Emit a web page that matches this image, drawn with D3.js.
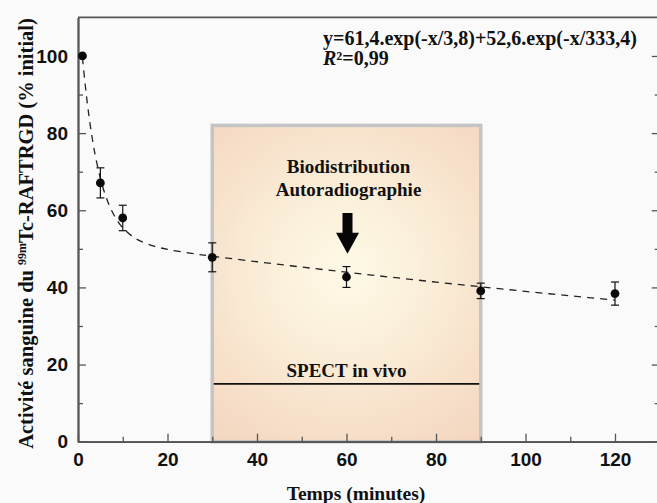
<!DOCTYPE html>
<html>
<head>
<meta charset="utf-8">
<script src="https://cdn.jsdelivr.net/npm/d3@7"></script>
<style>
  html, body { margin: 0; padding: 0; background: #fafafa; }
  svg { display: block; }
</style>
</head>
<body>
<svg id="chart" width="657" height="503"></svg>
<script>
// ---- data ----
const timeMin   = [1, 5, 10, 30, 60, 90, 120];
const activity  = [100, 67.1, 58.0, 47.8, 42.7, 39.1, 38.4];
const errorSD   = [0, 3.9, 3.3, 3.75, 2.7, 2.0, 3.0];

// fitted curve y=61,4.exp(-x/3,8)+52,6.exp(-x/333,4)
const fitX = [1, 1.5, 2, 2.5, 3, 3.5, 4, 5, 6, 7, 8, 9, 10, 12, 14, 17, 20, 25, 30, 40, 50, 60, 70, 80, 90, 100, 110, 120];
const fitY = [99.6, 93.74, 88.56, 84.01, 80.01, 76.49, 73.40, 68.29, 64.32, 61.24, 58.83, 56.95, 55.47, 53.35, 51.98, 50.69, 49.86, 48.88, 48.09, 46.65, 45.27, 43.94, 42.64, 41.38, 40.16, 38.97, 37.82, 36.70];

const xMajorTicks = [0, 20, 40, 60, 80, 100, 120];
const xMinorTicks = [10, 30, 50, 70, 90, 110];
const yMajorTicks = [0, 20, 40, 60, 80, 100];
const yMinorTicks = [10, 30, 50, 70, 90];

const windowRange = [30, 90];     // shaded period (minutes)
const windowTop   = 82;           // top of shaded period (% initial)
const spectLevel  = 15;           // SPECT line level
const arrowX      = 60;
const arrowFrom   = 59.3;
const arrowTo     = 48.7;

const equationText = "y=61,4.exp(-x/3,8)+52,6.exp(-x/333,4)";
const r2Text = "=0,99";

// ---- scales ----
const svg = d3.select("#chart");
const W = 657, H = 503;
const x = d3.scaleLinear().domain([0, 130]).range([78, 659.75]);
const y = d3.scaleLinear().domain([0, 110]).range([441.7, 17.4]);

svg.append("rect").attr("width", W).attr("height", H).attr("fill", "#fafafa");

// gradient
const defs = svg.append("defs");
const grad = defs.append("radialGradient")
  .attr("id", "glow").attr("gradientUnits", "userSpaceOnUse")
  .attr("cx", x(60)).attr("cy", y(44)).attr("r", 235);
[[0, "#fdf9e6"], [0.3, "#fbf0da"], [0.65, "#f7e0ca"], [1, "#f2d3bc"]].forEach(([o, c]) =>
  grad.append("stop").attr("offset", o).attr("stop-color", c));

// shaded window
svg.append("rect")
  .attr("x", x(windowRange[0])).attr("y", y(windowTop))
  .attr("width", x(windowRange[1]) - x(windowRange[0]))
  .attr("height", y(0) - y(windowTop))
  .attr("fill", "url(#glow)")
  .attr("stroke", "#c4c4c4").attr("stroke-width", 3.5);

// SPECT line
svg.append("line")
  .attr("x1", x(windowRange[0]) + 1.5).attr("x2", x(windowRange[1]) - 1.5)
  .attr("y1", y(spectLevel)).attr("y2", y(spectLevel))
  .attr("stroke", "#111").attr("stroke-width", 1.6);

// ---- axes ----
const axisColor = "#555";
function styleAxis(g) {
  g.select(".domain").attr("stroke", axisColor).attr("stroke-width", 1.8);
  g.selectAll(".tick line").attr("stroke", axisColor).attr("stroke-width", 1.3);
  g.selectAll(".tick text")
    .attr("fill", "#111")
    .style("font-family", "'Liberation Sans', Arial, sans-serif")
    .style("font-weight", "bold")
    .style("font-size", "19px");
}

const gx = svg.append("g").attr("transform", `translate(0,${y(0)})`)
  .call(d3.axisBottom(x).tickValues(xMajorTicks).tickFormat(d3.format("d"))
        .tickSizeInner(-8).tickSizeOuter(0).tickPadding(11));
styleAxis(gx);
const gxm = svg.append("g").attr("transform", `translate(0,${y(0)})`)
  .call(d3.axisBottom(x).tickValues(xMinorTicks).tickFormat("")
        .tickSizeInner(-5).tickSizeOuter(0));
styleAxis(gxm);

const gy = svg.append("g").attr("transform", `translate(${x(0)},0)`)
  .call(d3.axisLeft(y).tickValues(yMajorTicks).tickFormat(d3.format("d"))
        .tickSizeInner(-8).tickSizeOuter(0).tickPadding(10));
styleAxis(gy);
const gym = svg.append("g").attr("transform", `translate(${x(0)},0)`)
  .call(d3.axisLeft(y).tickValues(yMinorTicks).tickFormat("")
        .tickSizeInner(-5).tickSizeOuter(0));
styleAxis(gym);

const gr = svg.append("g").attr("transform", `translate(${x(130)},0)`)
  .call(d3.axisRight(y).tickValues(yMajorTicks).tickFormat("")
        .tickSizeInner(-8).tickSizeOuter(0));
styleAxis(gr);
const grm = svg.append("g").attr("transform", `translate(${x(130)},0)`)
  .call(d3.axisRight(y).tickValues(yMinorTicks).tickFormat("")
        .tickSizeInner(-5).tickSizeOuter(0));
styleAxis(grm);

// top frame
svg.append("line")
  .attr("x1", x(0)).attr("x2", x(130)).attr("y1", y(110)).attr("y2", y(110))
  .attr("stroke", axisColor).attr("stroke-width", 1.8);

// ---- fit curve ----
const line = d3.line().x(d => x(d[0])).y(d => y(d[1])).curve(d3.curveCatmullRom);
svg.append("path")
  .datum(fitX.map((v, i) => [v, fitY[i]]))
  .attr("d", line)
  .attr("fill", "none").attr("stroke", "#222")
  .attr("stroke-width", 1.3).attr("stroke-dasharray", "7,6");

// ---- error bars & points ----
const pts = timeMin.map((t, i) => ({ t, v: activity[i], e: errorSD[i] }));
const eb = svg.append("g").attr("stroke", "#111").attr("stroke-width", 1.2);
pts.filter(d => d.e > 0).forEach(d => {
  eb.append("line").attr("x1", x(d.t)).attr("x2", x(d.t))
    .attr("y1", y(d.v + d.e)).attr("y2", y(d.v - d.e));
  [d.v + d.e, d.v - d.e].forEach(v =>
    eb.append("line").attr("x1", x(d.t) - 4).attr("x2", x(d.t) + 4)
      .attr("y1", y(v)).attr("y2", y(v)));
});
svg.append("g").selectAll("circle").data(pts).join("circle")
  .attr("cx", d => x(d.t)).attr("cy", d => y(d.v)).attr("r", 4.4)
  .attr("fill", "#0a0a0a");

// ---- annotations ----
const serif = "'Liberation Serif', 'Times New Roman', serif";
function label(txt, px, py, size, anchor) {
  return svg.append("text").attr("x", px).attr("y", py)
    .attr("text-anchor", anchor || "middle")
    .style("font-family", serif).style("font-weight", "bold")
    .style("font-size", size + "px").attr("fill", "#111").text(txt);
}
const cx = (x(windowRange[0]) + x(windowRange[1])) / 2;
label("Biodistribution", cx + 2, 173.3, 19);
label("Autoradiographie", cx + 2, 196, 19);
label("SPECT in vivo", cx, 376.7, 19);

// arrow
const ax = x(arrowX) + 1, ay0 = y(arrowFrom), ay1 = y(arrowTo);
const headH = 21, shaftW = 10, headW = 23;
svg.append("path")
  .attr("d", `M${ax - shaftW/2},${ay0} L${ax + shaftW/2},${ay0} L${ax + shaftW/2},${ay1 - headH}
              L${ax + headW/2},${ay1 - headH} L${ax},${ay1} L${ax - headW/2},${ay1 - headH}
              L${ax - shaftW/2},${ay1 - headH} Z`)
  .attr("fill", "#050505");

// equation
label(equationText, 323, 45, 20, "start");
const r2 = svg.append("text").attr("x", 323).attr("y", 65)
  .style("font-family", serif).style("font-weight", "bold")
  .style("font-size", "20px").attr("fill", "#111");
r2.append("tspan").style("font-style", "italic").text("R");
r2.append("tspan").text("²" + r2Text);

// axis titles
label("Temps (minutes)", 356, 500, 19.5);
const yt = svg.append("text")
  .attr("transform", "translate(33,233.5) rotate(-90)")
  .attr("text-anchor", "middle")
  .style("font-family", serif).style("font-weight", "bold")
  .style("font-size", "20.5px").attr("fill", "#111");
yt.append("tspan").text("Activité sanguine du ");
yt.append("tspan").attr("dy", -7).style("font-size", "12px").text("99m");
yt.append("tspan").attr("dy", 7).text("Tc-RAFTRGD (% initial)");
</script>
</body>
</html>
